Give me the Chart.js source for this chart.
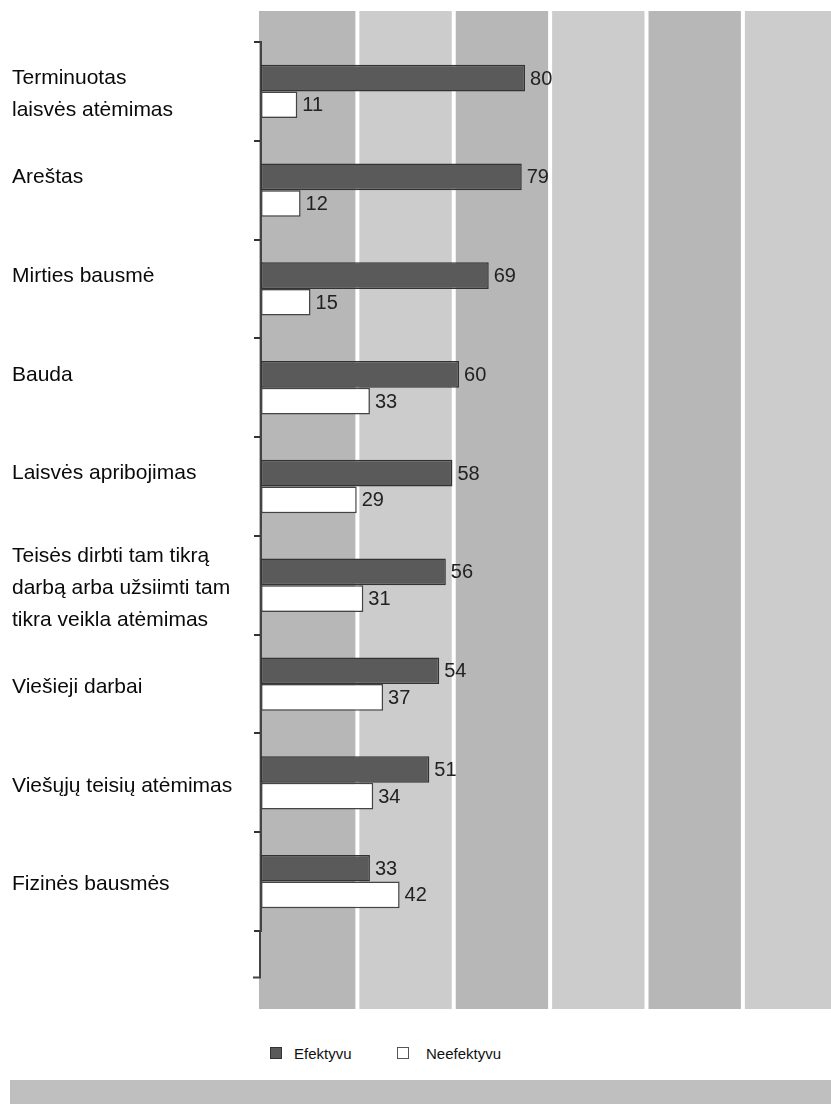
<!DOCTYPE html>
<html lang="lt">
<head>
<meta charset="utf-8">
<title>Bausmių efektyvumas</title>
<script src="https://cdn.jsdelivr.net/npm/chart.js@4.4.1/dist/chart.umd.min.js"></script>
<style>
  html, body { margin: 0; padding: 0; background: #fff; }
  body { width: 831px; height: 1104px; position: relative; overflow: hidden; font-family: "Liberation Sans", Arial, sans-serif; }
  .chart-wrap { position: absolute; left: 0; top: 0; width: 831px; height: 1030px; }
  .legend { position: absolute; top: 1044px; left: 0; height: 18px; font-size: 15px; color: #111; }
  .legend .item { position: absolute; top: 0; display: flex; align-items: center; white-space: nowrap; height: 18px; }
  .legend .box { width: 10px; height: 10px; margin-right: 12px; box-sizing: content-box; }
  .legend .box.dark { background: #5a5a5a; border: 1px solid #333; }
  .legend .box.light { background: #fff; border: 1px solid #555; margin-right: 17px; }
  .footer-bar { position: absolute; left: 10px; top: 1080px; width: 821px; height: 24px; background: #bfbfbf; }
</style>
</head>
<body>
<div class="chart-wrap"><canvas id="penaltyChart"></canvas></div>
<div class="legend">
  <div class="item" style="left:270px"><span class="box dark"></span><span>Efektyvu</span></div>
  <div class="item" style="left:397px"><span class="box light"></span><span>Neefektyvu</span></div>
</div>
<div class="footer-bar"></div>

<script>
'use strict';

// ============================================================
// DATA
// ============================================================
const categories = [
  ['Terminuotas', 'laisvės atėmimas'],
  ['Areštas', ''],
  ['Mirties bausmė', ''],
  ['Bauda', ''],
  ['Laisvės apribojimas', ''],
  ['Teisės dirbti tam tikrą', 'darbą arba užsiimti tam', 'tikra veikla atėmimas'],
  'Viešieji darbai',
  'Viešųjų teisių atėmimas',
  'Fizinės bausmės'
];
const effective   = [80, 79, 69, 60, 58, 56, 54, 51, 33];
const ineffective = [11, 12, 15, 33, 29, 31, 37, 34, 42];
const seriesNames = ['Efektyvu', 'Neefektyvu'];

const xMax     = 172.7;
const gridStep = 29.2;

// ============================================================
// PLUGINS
// ============================================================
// alternating grey bands + white separators, painted before the axes
const bandsPlugin = {
  id: 'bands',
  beforeDraw(chart) {
    const { ctx, chartArea, scales: { x } } = chart;
    const top = chartArea.top - 31;
    const bottom = chartArea.bottom + 78;
    ctx.save();
    let i = 0;
    for (let v = 0; v < xMax; v += gridStep, i++) {
      const x0 = i === 0 ? chartArea.left - 2 : x.getPixelForValue(v);
      const x1 = Math.min(x.getPixelForValue(v + gridStep), chartArea.right);
      ctx.fillStyle = i % 2 === 0 ? '#b7b7b7' : '#cccccc';
      ctx.fillRect(x0, top, x1 - x0, bottom - top);
    }
    ctx.fillStyle = '#ffffff';
    for (let v = gridStep; v < xMax; v += gridStep) {
      const px = x.getPixelForValue(v);
      ctx.fillRect(px - 2, top, 4, bottom - top);
    }
    ctx.restore();
  }
};

// value labels at bar ends + axis stub below last category
const labelsPlugin = {
  id: 'valueLabels',
  afterDatasetsDraw(chart) {
    const { ctx, chartArea } = chart;
    ctx.save();
    ctx.font = '20px "Liberation Sans", Arial, sans-serif';
    ctx.fillStyle = '#222';
    ctx.textAlign = 'left';
    ctx.textBaseline = 'middle';
    chart.data.datasets.forEach((ds, di) => {
      chart.getDatasetMeta(di).data.forEach((bar, i) => {
        ctx.fillText(String(ds.data[i]), bar.x + 5, bar.y + 1);
      });
    });
    // axis continues about half a slot below the last category
    const step = (chartArea.bottom - chartArea.top) / categories.length;
    const yEnd = chartArea.bottom + step * 0.47;
    ctx.strokeStyle = '#444';
    ctx.lineWidth = 2;
    ctx.beginPath();
    ctx.moveTo(chartArea.left - 1, chartArea.bottom);
    ctx.lineTo(chartArea.left - 1, yEnd);
    ctx.moveTo(chartArea.left - 8, yEnd);
    ctx.lineTo(chartArea.left, yEnd);
    ctx.stroke();
    ctx.restore();
  }
};

// ============================================================
// CHART
// ============================================================
const ctx = document.getElementById('penaltyChart');
new Chart(ctx, {
  type: 'bar',
  data: {
    labels: categories,
    datasets: [
      {
        label: seriesNames[0], data: effective,
        backgroundColor: '#5a5a5a', borderColor: '#333', borderWidth: 1.5, borderSkipped: false,
        categoryPercentage: 0.54, barPercentage: 1.0
      },
      {
        label: seriesNames[1], data: ineffective,
        backgroundColor: '#ffffff', borderColor: '#444', borderWidth: 1.5, borderSkipped: false,
        categoryPercentage: 0.54, barPercentage: 1.0
      }
    ]
  },
  options: {
    indexAxis: 'y',
    responsive: true, maintainAspectRatio: false,
    animation: false,
    layout: { padding: { left: 12, top: 42, right: 0, bottom: 99 } },
    plugins: { legend: { display: false }, tooltip: { enabled: false } },
    scales: {
      x: {
        display: false, min: 0, max: xMax,
        ticks: { stepSize: gridStep }
      },
      y: {
        position: 'left',
        afterFit(scale) { scale.width = 249; },
        border: { display: true, color: '#444', width: 2 },
        grid: { display: true, drawOnChartArea: false, drawTicks: true, tickLength: 7, color: '#333', lineWidth: 2, offset: true },
        ticks: {
          crossAlign: 'far', color: '#0a0a0a', labelOffset: 3,
          font: { family: '"Liberation Sans", Arial, sans-serif', size: 21, lineHeight: 1.52 }
        }
      }
    }
  },
  plugins: [bandsPlugin, labelsPlugin]
});
</script>
</body>
</html>
